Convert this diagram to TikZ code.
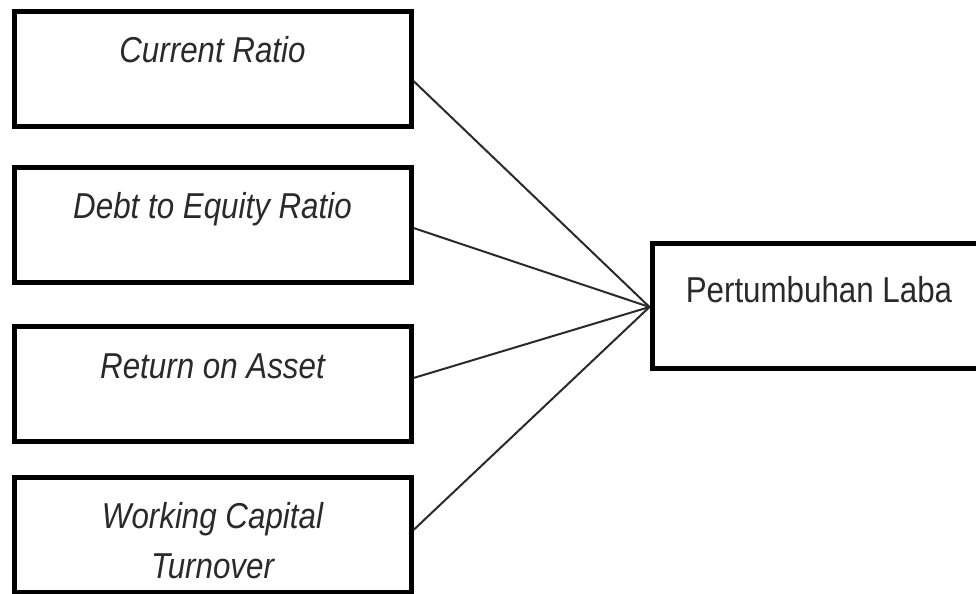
\documentclass[tikz,border=0pt]{standalone}
\usepackage{fontspec}
\setmainfont[FakeStretch=0.87]{Liberation Sans}
\definecolor{inkgray}{HTML}{2A2A2A}

\tikzset{
  varbox/.style={draw=black, line width=2.5pt, minimum width=198.5pt,
    minimum height=57.5pt, inner sep=0pt},
  vartext/.style={anchor=base, align=center,
    text=inkgray, font=\fontsize{18}{25}\selectfont\itshape},
  link/.style={draw=inkgray, line width=1pt}
}

\begin{document}
\begin{tikzpicture}[x=0.5pt, y=-0.5pt]
  \useasboundingbox (0,0) rectangle (976,594);

  % independent variables
  \foreach \name/\y/\txt/\ty in {cr/68.5/Current Ratio/-27,
      der/224.5/Debt to Equity Ratio/-27,
      roa/384/Return on Asset/-27,
      wct/534.5/Working Capital\\Turnover/-52}{
    \node[varbox] (\name) at (212.5,\y) {};
    \node[vartext, yshift=\ty pt] (\name-txt) at (\name.north) {\txt};
  }

  % dependent variable
  \node[varbox, minimum width=167pt, minimum height=62.5pt] (laba) at (819,305.5) {};
  \node[vartext, yshift=-30.75pt, font=\fontsize{18}{25}\selectfont] (laba-txt) at (laba.north) {Pertumbuhan Laba};

  \foreach \name/\dy in {cr/-6.25, der/-1.75, roa/3, wct/2.25}
    \draw[link] ([yshift=\dy pt]\name.east) -- ([yshift=-0.75pt]laba.west);
\end{tikzpicture}
\end{document}
